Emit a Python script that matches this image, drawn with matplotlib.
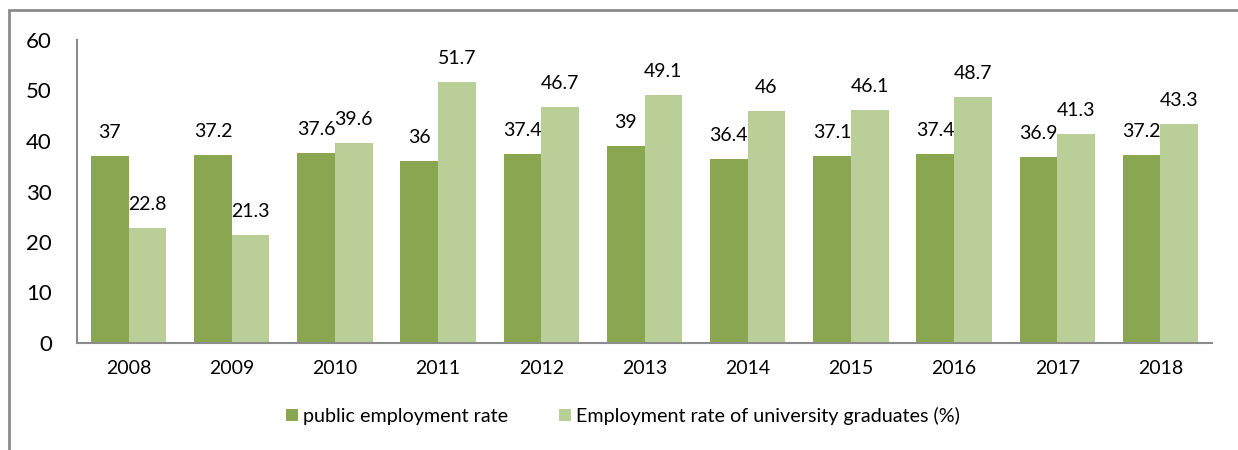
import matplotlib
matplotlib.use("Agg")
import matplotlib.pyplot as plt
import numpy as np
from matplotlib.patches import Rectangle

plt.rcParams['font.family'] = ['Lato', 'DejaVu Sans']

years = ["2008", "2009", "2010", "2011", "2012", "2013", "2014", "2015", "2016", "2017", "2018"]
public_rate = [37, 37.2, 37.6, 36, 37.4, 39, 36.4, 37.1, 37.4, 36.9, 37.2]
grad_rate = [22.8, 21.3, 39.6, 51.7, 46.7, 49.1, 46, 46.1, 48.7, 41.3, 43.3]
series_names = ["public employment rate", "Employment rate of university graduates (%)"]
yticks = [0, 10, 20, 30, 40, 50, 60]

c_dark = "#8BA650"
c_light = "#BACF98"

fig = plt.figure(figsize=(12.38, 4.5), dpi=100)
ax = fig.add_axes([77/1238, 1-343/450, (1212-77)/1238, (343-40)/450])

x = np.arange(len(years))
w = 0.365
b1 = ax.bar(x - w/2, public_rate, w, color=c_dark, label=series_names[0])
b2 = ax.bar(x + w/2, grad_rate, w, color=c_light, label=series_names[1])

def fmt(v):
    return f"{v:g}"

for bars, vals in ((b1, public_rate), (b2, grad_rate)):
    for r, v in zip(bars, vals):
        ax.annotate(fmt(v), (r.get_x() + r.get_width()/2, v), xytext=(0, 17),
                    textcoords='offset points', ha='center', va='center',
                    fontsize=14, color='black')

ax.set_xlim(-0.5, len(years) - 0.5)
ax.set_ylim(0, 60)
ax.set_yticks(yticks)
ax.set_yticklabels([str(t) for t in yticks], fontsize=16)
ax.set_xticks(x)
ax.set_xticklabels(years, fontsize=14)
ax.tick_params(axis='y', length=0, pad=18)
ax.tick_params(axis='x', length=0, pad=12)
for s in ('top', 'right'):
    ax.spines[s].set_visible(False)
for s in ('left', 'bottom'):
    ax.spines[s].set_color('#8C8C8C')
    ax.spines[s].set_linewidth(1.5)

leg = fig.legend(handles=[b1, b2], loc='center', bbox_to_anchor=(623/1238, 1-416/450),
                 ncol=2, frameon=False, fontsize=14.2, handlelength=0.6, handleheight=0.6,
                 handletextpad=0.25, columnspacing=2.6)

fig.patches.append(Rectangle((9/1238, -0.1), 1.2, 1 - 10/450 + 0.1, transform=fig.transFigure,
                             fill=False, edgecolor='#8C8C8C', linewidth=2))

fig.savefig("out.png", dpi=100)
